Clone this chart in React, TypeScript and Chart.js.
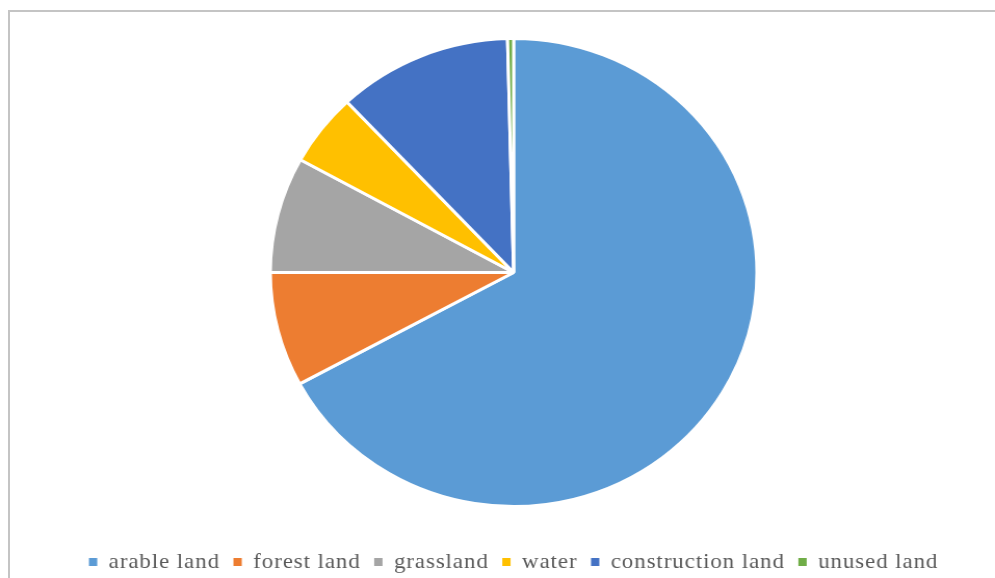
import React, { useEffect, useRef } from "react";
import { Chart, registerables } from "chart.js";

Chart.register(...registerables);

const categories = ["arable land", "forest land", "grassland", "water", "construction land", "unused land"];
const shares = [67.1, 7.9, 8.0, 5.0, 11.6, 0.4];
const colors = ["#5B9BD5", "#ED7D31", "#A5A5A5", "#FFC000", "#4472C4", "#70AD47"];

const spacingPlugin = {
  id: "letterSpacing",
  beforeLayout(chart: any) {
    chart.ctx.letterSpacing = "0.9px";
  },
  beforeDraw(chart: any) {
    chart.ctx.letterSpacing = "0.9px";
  },
};

export default function App() {
  const ref = useRef<HTMLCanvasElement | null>(null);
  useEffect(() => {
    if (!ref.current) return;
    const defaultGen = (Chart as any).overrides.pie.plugins.legend.labels.generateLabels;
    const chart = new Chart(ref.current, {
      type: "pie",
      data: {
        labels: categories,
        datasets: [
          {
            data: shares,
            backgroundColor: colors,
            borderColor: "#ffffff",
            borderWidth: 3,
            radius: 234,
          } as any,
        ],
      },
      options: {
        animation: false,
        responsive: false,
        maintainAspectRatio: false,
        layout: { padding: { top: 7, bottom: 1, left: 31, right: 0 } },
        plugins: {
          tooltip: { enabled: false },
          legend: {
            position: "bottom",
            labels: {
              boxWidth: 8,
              boxHeight: 8,
              padding: 13,
              color: "#595959",
              font: { family: "'Liberation Serif', 'Times New Roman', serif", size: 22 },
              generateLabels: (c: any) =>
                defaultGen(c).map((l: any) => ({ ...l, lineWidth: 0, strokeStyle: l.fillStyle })),
            },
          },
        },
      },
      plugins: [spacingPlugin],
    });
    return () => chart.destroy();
  }, []);
  return (
    <div>
      <div
        style={{
          position: "fixed",
          left: 8,
          top: 10,
          right: -20,
          bottom: -20,
          border: "2px solid #c4c4c4",
          background: "#fff",
        }}
      />
      <canvas
        ref={ref}
        width={957}
        height={584}
        style={{ position: "fixed", left: 0, top: 0, width: 995, height: 584 }}
      />
    </div>
  );
}
